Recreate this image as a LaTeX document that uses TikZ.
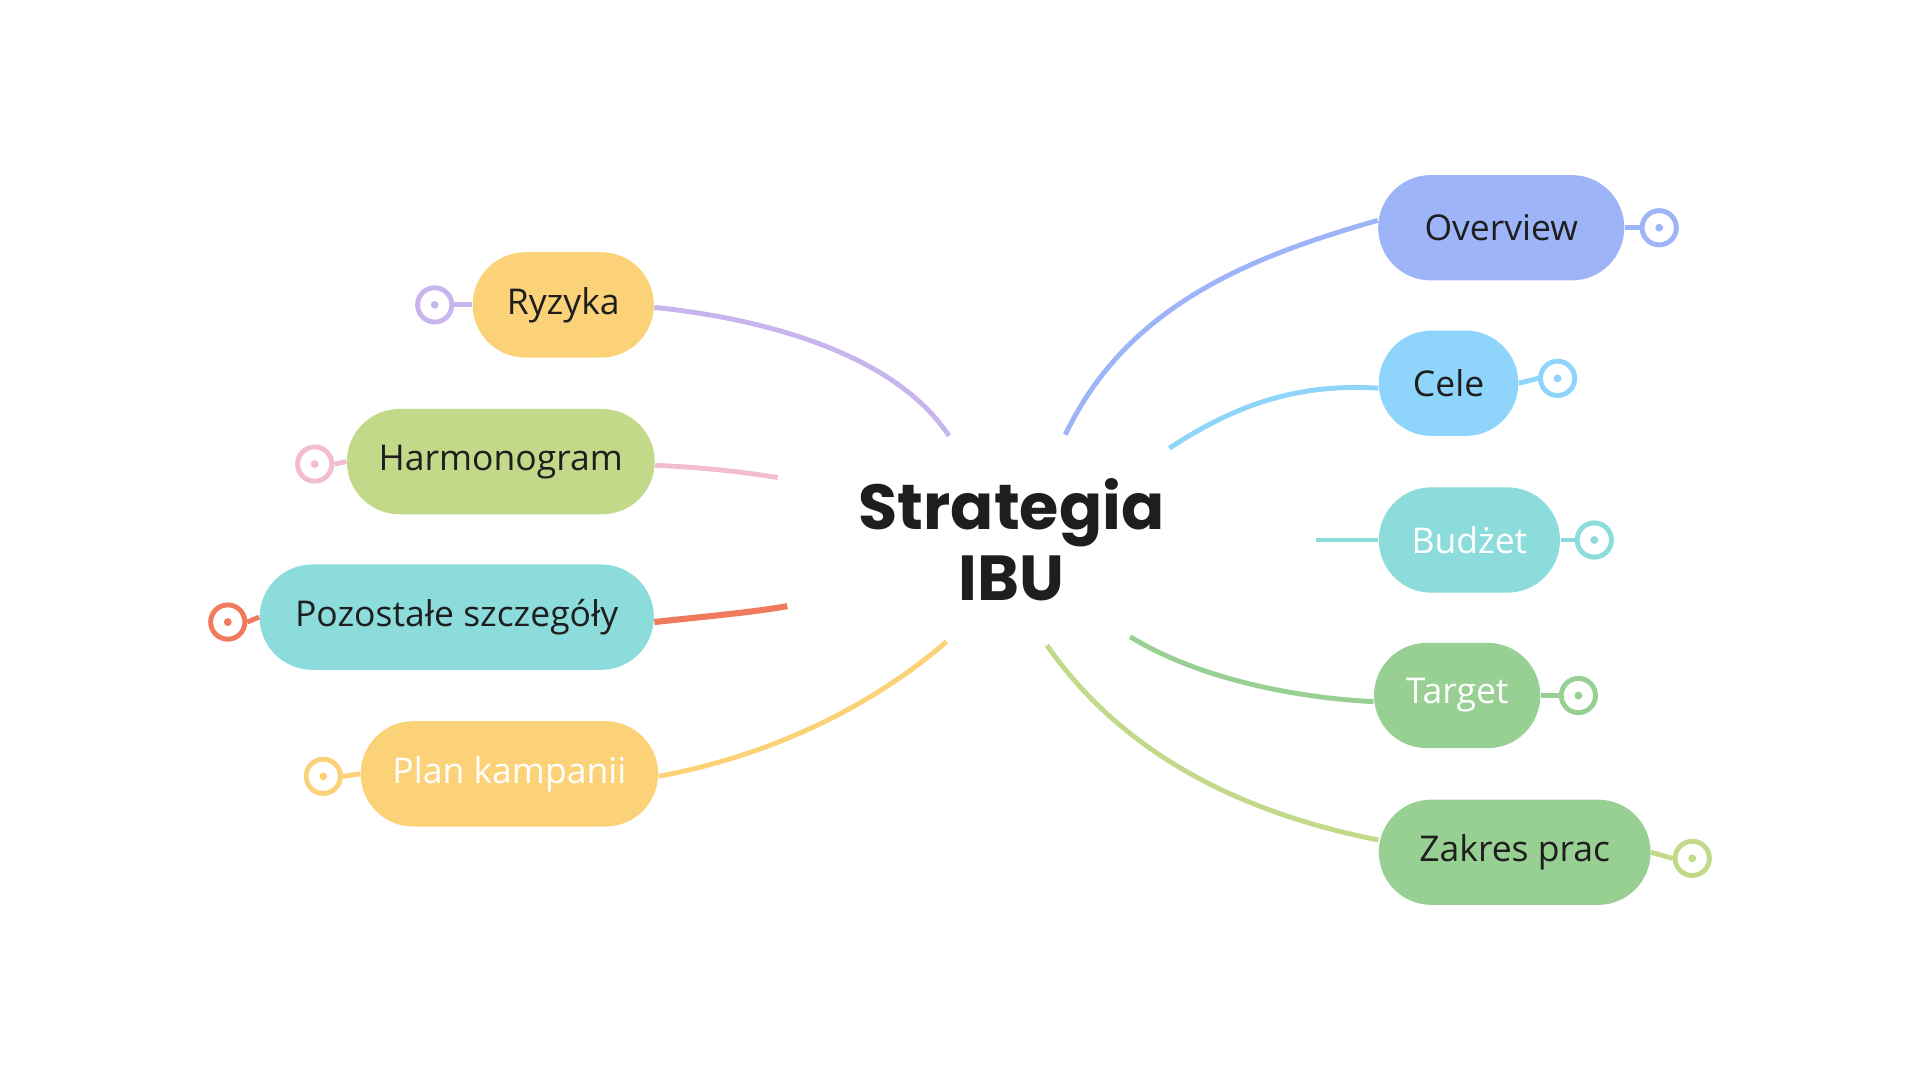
\documentclass[tikz,border=0pt]{standalone}
\usepackage{fontspec}
\setmainfont{Open Sans}
\newfontfamily\titlefont{Poppins}
\definecolor{cBlue}{HTML}{9DB4F8}
\definecolor{cSky}{HTML}{8FD4FB}
\definecolor{cTeal}{HTML}{8CDCDC}
\definecolor{cGreen}{HTML}{98CF92}
\definecolor{cLime}{HTML}{C3D98A}
\definecolor{cOrange}{HTML}{FBD277}
\definecolor{cPurple}{HTML}{C8B5EE}
\definecolor{cPink}{HTML}{F2BCD2}
\definecolor{cRed}{HTML}{F07A5C}
\definecolor{cText}{HTML}{1E1E1E}
\tikzset{
  topic/.style={rounded corners=43*0.5pt, minimum height=86*0.5pt, inner xsep=13pt, font=\fontsize{14.5}{16}\selectfont, text=cText},
  ring/.style={circle, draw=#1, line width=2pt, fill=white, minimum size=28*0.5pt, inner sep=0pt},
  conn/.style={line width=2pt, draw=#1},
}
\begin{document}
\begin{tikzpicture}[x=0.5pt,y=-0.5pt]
\useasboundingbox (0,0) rectangle (1568,882);
% center
\node[align=center, font=\titlefont\bfseries\fontsize{26}{29}\selectfont, text=cText] (c) at (826,441) {Strategia\\IBU};
% right nodes
\node[topic, fill=cBlue, minimum width=201*0.5pt] (ov) at (1226,186) {Overview};
\node[topic, fill=cSky, minimum width=114*0.5pt] (ce) at (1183,313) {Cele};
\node[topic, fill=cTeal, minimum width=148*0.5pt, text=white] (bu) at (1200,441) {Budżet};
\node[topic, fill=cGreen, minimum width=128*0.5pt, text=white] (ta) at (1190,568) {Target};
\node[topic, fill=cGreen, minimum width=222*0.5pt] (za) at (1237,696) {Zakres prac};
% left nodes
\node[topic, fill=cOrange, minimum width=148*0.5pt] (ry) at (460,249) {Ryzyka};
\node[topic, fill=cLime, minimum width=251*0.5pt] (ha) at (409,377) {Harmonogram};
\node[topic, fill=cTeal, minimum width=322*0.5pt] (po) at (373,504) {Pozostałe szczegóły};
\node[topic, fill=cOrange, minimum width=236*0.5pt, text=white] (pl) at (416,632) {Plan kampanii};
% rings
\node[ring=cBlue] (rov) at (1355,186) {};
\node[ring=cSky] (rce) at (1272,309) {};
\node[ring=cTeal] (rbu) at (1302,441) {};
\node[ring=cGreen] (rta) at (1289,568) {};
\node[ring=cLime] (rza) at (1382,701) {};
\node[ring=cPurple] (rry) at (355,249) {};
\node[ring=cPink] (rha) at (257,379) {};
\node[ring=cRed] (rpo) at (186,508) {};
\node[ring=cOrange] (rpl) at (264,634) {};
\foreach \r/\col in {rov/cBlue,rce/cSky,rbu/cTeal,rta/cGreen,rza/cLime,rry/cPurple,rha/cPink,rpo/cRed,rpl/cOrange}
  \fill[\col] (\r.center) circle (1.6pt);
% stubs
\begin{scope}[on background layer/.style={}]
\end{scope}
\draw[conn=cBlue] (ov.east) -- (rov.west);
\draw[conn=cSky] (ce.east) -- (rce.west);
\draw[conn=cTeal] (bu.east) -- (rbu.west);
\draw[conn=cGreen] (ta.east) -- (rta.west);
\draw[conn=cLime] (za.east) -- (rza.west);
\draw[conn=cPurple] (ry.west) -- (rry.east);
\draw[conn=cPink] (ha.west) -- (rha.east);
\draw[conn=cRed] (po.west) -- (rpo.east);
\draw[conn=cOrange] (pl.west) -- (rpl.east);
% branch ends
\coordinate (eov) at (870,355);
\coordinate (ece) at (955,366);
\coordinate (ebu) at (1075,441);
\coordinate (eta) at (923,520);
\coordinate (eza) at (855,527);
\coordinate (ery) at (775,356);
\coordinate (eha) at (635,390);
\coordinate (epo) at (643,495);
\coordinate (epl) at (773,524);
% branches
\draw[conn=cBlue] (eov) .. controls (920,250) and (1020,210) .. ([yshift=3pt]ov.west);
\draw[conn=cSky] (ece) .. controls (1010,330) and (1060,313) .. ([yshift=-2pt]ce.west);
\draw[conn=cTeal] (ebu) -- (bu.west);
\draw[conn=cGreen] (eta) .. controls (980,555) and (1060,570) .. ([yshift=-2.5pt]ta.west);
\draw[conn=cLime] (eza) .. controls (920,620) and (1020,665) .. ([yshift=5pt]za.west);
\draw[conn=cPurple] ([yshift=-1pt]ry.east) .. controls (640,262) and (735,295) .. (ery);
\draw[conn=cPink] ([yshift=-1.5pt]ha.east) .. controls (580,382) and (610,386) .. (eha);
\draw[conn=cRed, line width=2.5pt] ([yshift=-2pt]po.east) .. controls (580,503) and (615,500) .. (epo);
\draw[conn=cOrange] ([yshift=-1pt]pl.east) .. controls (640,615) and (720,570) .. (epl);
\end{tikzpicture}
\end{document}
